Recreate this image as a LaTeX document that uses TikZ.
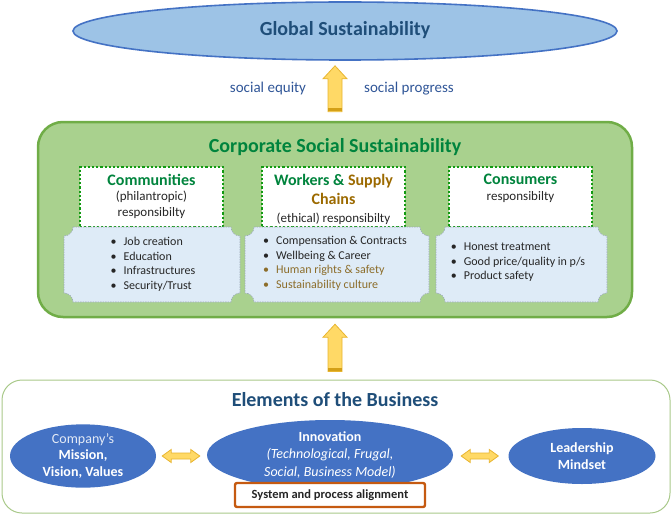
\documentclass[tikz,border=0pt]{standalone}
\usepackage{fontspec}
\setmainfont{Carlito}
\usepackage{tikz}
\usetikzlibrary{shapes.geometric,calc,positioning}
\definecolor{globalF}{HTML}{9DC3E6}
\definecolor{blueE}{HTML}{4472C4}
\definecolor{navyT}{HTML}{1F4E79}
\definecolor{labelT}{HTML}{2F5597}
\definecolor{csrF}{HTML}{A9D18E}
\definecolor{csrD}{HTML}{70AD47}
\definecolor{csrT}{HTML}{00843D}
\definecolor{dotG}{HTML}{129A12}
\definecolor{listF}{HTML}{DEEBF7}
\definecolor{listD}{HTML}{9AA8B8}
\definecolor{brownT}{HTML}{9C6A00}
\definecolor{brownL}{HTML}{8C6D2A}
\definecolor{textD}{HTML}{262626}
\definecolor{arrF}{HTML}{FFD966}
\definecolor{arrD}{HTML}{E8B530}
\definecolor{arrB}{HTML}{D4A017}
\definecolor{sysD}{HTML}{C55A11}
\definecolor{elemD}{HTML}{A9C98A}
% list panel with notched corners: centre x, centre y, width, height
\newcommand{\notchbox}[4]{%
  \pgfmathsetmacro{\nbxa}{#1-#3/2}\pgfmathsetmacro{\nbxb}{#1+#3/2}%
  \pgfmathsetmacro{\nbya}{#2-#4/2}\pgfmathsetmacro{\nbyb}{#2+#4/2}%
  \draw[listbox] (\nbxa+9,\nbya) -- (\nbxb-9,\nbya)
    .. controls (\nbxb-9,\nbya+5) and (\nbxb-5,\nbya+9) .. (\nbxb,\nbya+9)
    -- (\nbxb,\nbyb-9)
    .. controls (\nbxb-5,\nbyb-9) and (\nbxb-9,\nbyb-5) .. (\nbxb-9,\nbyb)
    -- (\nbxa+9,\nbyb)
    .. controls (\nbxa+9,\nbyb-5) and (\nbxa+5,\nbyb-9) .. (\nbxa,\nbyb-9)
    -- (\nbxa,\nbya+9)
    .. controls (\nbxa+5,\nbya+9) and (\nbxa+9,\nbya+5) .. (\nbxa+9,\nbya)
    -- cycle;}
% fat arrow from #1 (tail) up to #2 (tip)
\newcommand{\blockup}[2]{%
  \draw[bigarr] ($(#1)+(-7,0)$) -- ($(#2)+(-7,13)$) -- ($(#2)+(-12,13)$)
    -- (#2) -- ($(#2)+(12,13)$) -- ($(#2)+(7,13)$) -- ($(#1)+(7,0)$) -- cycle;
  \fill[arrB] ($(#1)+(-6.6,-4)$) rectangle ($(#1)+(6.6,-0.4)$);}
% fat two-headed arrow from #1 to #2
\newcommand{\blocklr}[2]{%
  \draw[bigarr] (#1) -- ($(#1)+(9,-6.5)$) -- ($(#1)+(9,-3)$) -- ($(#2)+(-9,-3)$)
    -- ($(#2)+(-9,-6.5)$) -- (#2) -- ($(#2)+(-9,6.5)$) -- ($(#2)+(-9,3)$)
    -- ($(#1)+(9,3)$) -- ($(#1)+(9,6.5)$) -- cycle;}

\begin{document}
\begin{tikzpicture}[
  x=1pt,y=-1pt,
  blob/.style={ellipse,fill=blueE,text=white,align=center,inner sep=0pt,
               font=\fontsize{14}{16.5}\selectfont},
  panel/.style={rounded corners=25pt,fill=csrF,draw=csrD,line width=2.5pt},
  headbox/.style={fill=white,draw=dotG,dotted,line width=2.2pt,
                  minimum width=143pt,minimum height=60pt},
  headtext/.style={align=center,inner sep=0pt,text=textD,
                   font=\fontsize{13}{15.5}\selectfont},
  listbox/.style={fill=listF,draw=listD,line width=0.6pt,
                  dash pattern=on 1.5pt off 1pt},
  listtext/.style={align=left,inner sep=0pt,text=textD,
                   font=\fontsize{12}{14.5}\selectfont},
  bigtitle/.style={font=\fontsize{20}{24}\selectfont\bfseries},
  lbl/.style={text=labelT,font=\fontsize{15}{18}\selectfont},
  bigarr/.style={fill=arrF,draw=arrD,line width=0.8pt,line join=miter}
]
\useasboundingbox (0,0) rectangle (671,516);

% Global level
\node[ellipse,fill=globalF,draw=blueE,line width=1.6pt,
      minimum width=544pt,minimum height=58pt,inner sep=0pt] (glob) at (345,31) {};
\node[bigtitle,text=navyT] (globT) at (345,30) {Global Sustainability};

% Corporate social sustainability panel
\node[panel,minimum width=594pt,minimum height=195pt] (csr) at (335,219.5) {};
\node[bigtitle,text=csrT] (csrT) at (335,147) {Corporate Social Sustainability};

% three stakeholder heads
\node[headbox] (comm) at (151.5,197) {};
\node[headbox] (work) at (333.5,197) {};
\node[headbox] (cons) at (520.5,197) {};

\node[headtext,below=8pt of comm.north] (commT)
  {{\fontsize{16}{19}\selectfont\bfseries\color{csrT}Communities}\\
   (philantropic)\\responsibilty};
\node[headtext,below=8pt of work.north] (workT)
  {{\fontsize{16}{19}\selectfont\bfseries{\color{csrT}Workers \&}
    {\color{brownT}Supply}}\\[4pt]
   {\fontsize{16}{19}\selectfont\bfseries\color{brownT}Chains}\\[2pt]
   (ethical) responsibilty};
\node[headtext,below=8pt of cons.north] (consT)
  {{\fontsize{16}{19}\selectfont\bfseries\color{csrT}Consumers}\\
   responsibilty};

% lists
\notchbox{152}{264.5}{176}{75}
\notchbox{337}{264.5}{184}{75}
\notchbox{521.5}{264.5}{171}{75}

\node[listtext] (commL) at (153,264.5)
  {\textbullet\hspace{7pt}Job creation\\
   \textbullet\hspace{7pt}Education\\
   \textbullet\hspace{7pt}Infrastructures\\
   \textbullet\hspace{7pt}Security/Trust};
\node[listtext] (workL) at (335,263.5)
  {\textbullet\hspace{7pt}Compensation \& Contracts\\
   \textbullet\hspace{7pt}Wellbeing \& Career\\
   {\color{brownL}\textbullet\hspace{7pt}Human rights \& safety}\\
   {\color{brownL}\textbullet\hspace{7pt}Sustainability culture}};
\node[listtext] (consL) at (518,262.5)
  {\textbullet\hspace{7pt}Honest treatment\\
   \textbullet\hspace{7pt}Good price/quality in p/s\\
   \textbullet\hspace{7pt}Product safety};

% arrow up to global level
\coordinate (a1b) at ($(csr.north)+(0,-9)$);
\coordinate (a1t) at ($(a1b |- glob.south)+(0,5)$);
\blockup{a1b}{a1t}
\node[lbl] (eq) at (268,89) {social equity};
\node[lbl] (prog) at (409,89) {social progress};

% Elements of the business
\node[draw=elemD,line width=1pt,rounded corners=20pt,fill=white,
      minimum width=668pt,minimum height=133pt] (biz) at (336,446.5) {};
\node[bigtitle,text=navyT] (bizT) at (335,400) {Elements of the Business};

\coordinate (a2b) at ($(biz.north)+(-1,-8)$);
\coordinate (a2t) at ($(a2b |- csr.south)+(0,6)$);
\blockup{a2b}{a2t}

\node[blob,minimum width=146pt,minimum height=57pt] (comp) at (83,456)
  {{\color{white!85!blueE}Company's}\\\textbf{Mission,}\\\textbf{Vision, Values}};
\node[blob,minimum width=246pt,minimum height=70pt,
      font=\fontsize{14}{17.5}\selectfont] (innov) at (330,455)
  {\textbf{Innovation}\\\textit{(Technological, Frugal,}\\
   \textit{Social, Business Model)}};
\node[blob,minimum width=147pt,minimum height=56pt] (lead) at (582,456)
  {\textbf{Leadership}\\\textbf{Mindset}};

\coordinate (d1l) at ($(comp.east)+(6,0)$);
\coordinate (d1r) at ($(d1l -| innov.west)+(-7,0)$);
\coordinate (d2l) at ($(d1l -| innov.east)+(8,0)$);
\coordinate (d2r) at ($(d1l -| lead.west)+(-10,0)$);
\blocklr{d1l}{d1r}
\blocklr{d2l}{d2r}

\node[draw=sysD,line width=2.4pt,fill=white,rounded corners=2pt,
      minimum width=190pt,minimum height=24pt,text=textD,
      font=\fontsize{12.5}{15}\selectfont\bfseries] (sys) at (330,495)
  {System and process alignment};
\end{tikzpicture}
\end{document}
